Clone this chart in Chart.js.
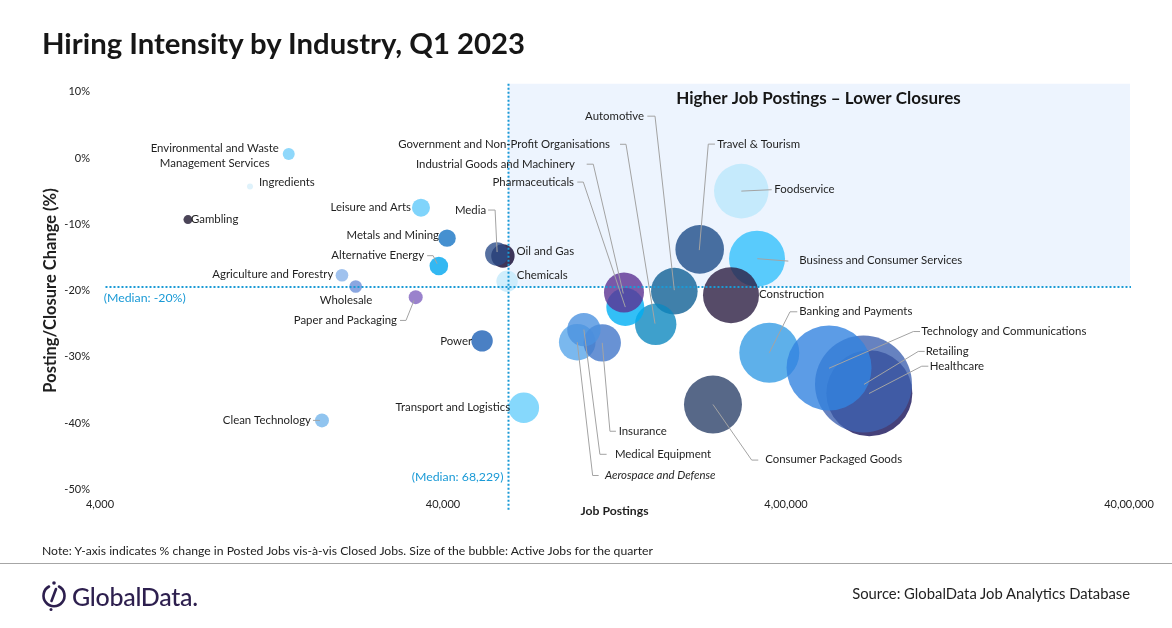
<!DOCTYPE html>
<html>
<head>
<meta charset="utf-8">
<script src="https://cdn.jsdelivr.net/npm/chart.js@4.4.0/dist/chart.umd.min.js"></script>
<style>
  body { margin: 0; background: #fff; font-family: Lato, sans-serif; color: #1f1f1f; }
  #page { position: relative; width: 1172px; height: 628px; overflow: hidden; }
  #chart { position: absolute; left: 0; top: 0; }
  .title { position: absolute; left: 42px; top: 25px; font-size: 29.3px; font-weight: bold; color: #161616; }
  .note { position: absolute; left: 42px; top: 543px; font-size: 12.2px; color: #222; }
  .rule { position: absolute; left: 0; top: 563px; width: 1172px; height: 1px; background: #a6a6a6; }
  .logo { position: absolute; left: 40px; top: 580px; height: 32px; display: flex; align-items: center; color: #2d1f4e; }
  .logo span { font-size: 25px; font-weight: 500; margin-left: 4px; letter-spacing: -0.3px; }
  .source { position: absolute; right: 42px; top: 584px; font-size: 14.8px; color: #222; }
</style>
</head>
<body>
<div id="page">
  <canvas id="chart" width="1172" height="628"></canvas>
  <div class="title">Hiring Intensity by Industry, Q1 2023</div>
  <div class="note">Note: Y-axis indicates % change in Posted Jobs vis-à-vis Closed Jobs. Size of the bubble: Active Jobs for the quarter</div>
  <div class="rule"></div>
  <div class="logo">
    <svg width="28" height="32" viewBox="0 0 28 32">
      <path d="M9 6.5 A10.5 10.5 0 1 0 19 6.5" fill="none" stroke="#2d1f4e" stroke-width="2.6" stroke-linecap="round"/>
      <line x1="16" y1="9" x2="11.5" y2="21" stroke="#2d1f4e" stroke-width="2.6" stroke-linecap="round"/>
      <circle cx="14" cy="3" r="1.8" fill="#2d1f4e"/>
      <circle cx="11" cy="29.5" r="1.5" fill="#2d1f4e"/>
    </svg>
    <span>GlobalData.</span>
  </div>
  <div class="source">Source: GlobalData Job Analytics Database</div>
</div>
<script>
// industries, in the order they are drawn
const industries = [
  "Aerospace and Defense", "Agriculture and Forestry", "Alternative Energy", "Automotive",
  "Banking and Payments", "Business and Consumer Services", "Chemicals", "Clean Technology",
  "Construction", "Consumer Packaged Goods", "Environmental and Waste Management Services",
  "Foodservice", "Gambling", "Government and Non-Profit Organisations", "Healthcare",
  "Pharmaceuticals", "Industrial Goods and Machinery", "Ingredients", "Insurance",
  "Leisure and Arts", "Oil and Gas", "Media", "Medical Equipment", "Metals and Mining",
  "Paper and Packaging", "Power", "Retailing", "Technology and Communications",
  "Transport and Logistics", "Travel & Tourism", "Wholesale"
];
const jobPostings = [
  98500, 20300, 38900, 189000,
  357600, 329300, 61500, 17750,
  276500, 245000, 14200,
  296300, 7220, 166800, 699900,
  136000, 134800, 10950, 116500,
  34500, 59800, 57400, 103000, 41100,
  33300, 52000, 672900, 534000,
  68800, 224100, 22260
];
const postingClosureChange = [
  -27.8, -17.7, -16.3, -20.1,
  -29.4, -15.2, -18.6, -39.6,
  -20.7, -37.2, 0.6,
  -5.0, -9.3, -25.1, -35.5,
  -22.5, -20.3, -4.3, -27.9,
  -7.5, -14.8, -14.5, -25.9, -12.1,
  -21.0, -27.6, -34.1, -31.7,
  -37.7, -13.8, -19.4
];
const activeJobs = [
  33500, 4000, 8650, 54300,
  90000, 78400, 11450, 4900,
  78400, 84100, 3600,
  74500, 2025, 42850, 184900,
  36100, 40000, 900, 35000,
  8100, 13700, 13700, 27900, 7600,
  4900, 11450, 235000, 180600,
  23400, 59000, 4000
];
const xTickValues = [4000, 40000, 400000, 4000000];
const xTickLabels = ["4,000", "40,000", "4,00,000", "40,00,000"];
const yTickValues = [10, 0, -10, -20, -30, -40, -50];
const medianPostings = 68229;   // value shown in the label
const medianLineX = 61900;      // where the source draws the dotted line
const medianChange = -19.4;

// look of each bubble, same order as industries
const colors = [
  "#7ab8ee", "#a0c2ee", "#24b8f2", "#4080aa",
  "#5eb0ea", "#5ccdfc", "#d0eefc", "#90c4ef",
  "#564b68", "#576888", "#8fd8fb",
  "#c8ecfc", "#4b4558", "#3ea0cc", "#45417a",
  "#28bff6", "#7c5aa8", "#dff2fb", "#6892d4",
  "#80d4fb", "#3f3658", "#5670a0", "#70a8e6", "#4590d0",
  "#9a82cc", "#4a80c4", "#6682c0", "#5c9ce6",
  "#86d8fc", "#4a70a0", "#8aa6e0"
];
const alpha = 0.8;
function seeThrough(hex) {
  const n = parseInt(hex.slice(1), 16);
  const c = [n >> 16, (n >> 8) & 255, n & 255].map(v =>
    Math.max(0, Math.min(255, Math.round((v - 255 * (1 - alpha)) / alpha))));
  return "rgba(" + c.join(",") + "," + alpha + ")";
}

// label placement, pixel offsets from the bubble centre
const labelLayout = {
  "Aerospace and Defense": { dx: 27.7, dy: 133.3, align: "left", italic: true, leader: [[0,0],[15.4,133.3],[21.4,133.3]] },
  "Agriculture and Forestry": { dx: -8.7, dy: -0.7, align: "right" },
  "Alternative Energy": { dx: -14.7, dy: -10.3, align: "right", leader: [[-11.7,-10.3],[-5.7,-10.3],[-1.7,-2.3]] },
  "Automotive": { dx: -30.3, dy: -175, align: "right", leader: [[-27,-175],[-19.3,-175],[0,-1]] },
  "Banking and Payments": { dx: 30, dy: -41, align: "left", leader: [[28,-41],[20.7,-41],[0,0]] },
  "Business and Consumer Services": { dx: 42.3, dy: 1.7, align: "left", leader: [[31.3,2.4],[0.3,0]] },
  "Chemicals": { dx: 9.7, dy: -6, align: "left" },
  "Clean Technology": { dx: -11, dy: 0, align: "right", leader: [[-9,0],[-2,0]] },
  "Construction": { dx: 28, dy: -1, align: "left" },
  "Consumer Packaged Goods": { dx: 52.3, dy: 55.3, align: "left", leader: [[0,0],[38.7,55.6],[45.3,55.6]] },
  "Environmental and Waste Management Services": { dx: -74, dy: -6, align: "center", lines: ["Environmental and Waste", "Management Services"] },
  "Foodservice": { dx: 33, dy: -1.7, align: "left", leader: [[30.4,-1.4],[0,0]] },
  "Gambling": { dx: 3, dy: 0, align: "left" },
  "Government and Non-Profit Organisations": { dx: -45.7, dy: -180, align: "right", leader: [[-35.7,-180],[-29.7,-180],[-0.7,-0.7]] },
  "Healthcare": { dx: 60.4, dy: -27, align: "left", leader: [[59,-27],[52.4,-27],[-0.3,0.3]] },
  "Pharmaceuticals": { dx: -51.3, dy: -125, align: "right", leader: [[-48,-125],[-42,-125],[0,0]] },
  "Industrial Goods and Machinery": { dx: -49, dy: -128.3, align: "right", leader: [[-37.3,-128.3],[-30.7,-128.3],[-0.7,1]] },
  "Ingredients": { dx: 9, dy: -4, align: "left" },
  "Insurance": { dx: 16.4, dy: 88.7, align: "left", leader: [[0,0],[7.7,88.4],[13.7,88.4]] },
  "Leisure and Arts": { dx: -10, dy: 0, align: "right" },
  "Media": { dx: -10.7, dy: -44, align: "right", leader: [[-8.7,-44],[-1.7,-44],[0.3,-2]] },
  "Medical Equipment": { dx: 31, dy: 124.7, align: "left", leader: [[0,0],[16,124.7],[22.7,124.7]] },
  "Metals and Mining": { dx: -8, dy: -3, align: "right" },
  "Oil and Gas": { dx: 13.7, dy: -4.7, align: "left" },
  "Paper and Packaging": { dx: -18.7, dy: 23.3, align: "right", leader: [[-15.7,23.3],[-9.7,23.3],[-1.7,3.3]] },
  "Power": { dx: -10, dy: 0, align: "right" },
  "Retailing": { dx: 62.2, dy: -32.5, align: "left", leader: [[61.2,-32.5],[54.8,-32.5],[0.5,0.5]] },
  "Technology and Communications": { dx: 92.3, dy: -36.5, align: "left", leader: [[91,-36.5],[84.3,-36.5],[0,0.2]] },
  "Transport and Logistics": { dx: -13.7, dy: 0, align: "right" },
  "Travel & Tourism": { dx: 17.6, dy: -105.3, align: "left", leader: [[15.3,-105.3],[8.6,-105.3],[-0.4,0.7]] },
  "Wholesale": { dx: -9.7, dy: 13.7, align: "center" }
};

const blue = "#1a9ad6";

const quadrantPlugin = {
  id: "quadrant",
  beforeDatasetsDraw(chart) {
    const { ctx, scales: { x, y } } = chart;
    const x0 = x.getPixelForValue(medianLineX);
    const x1 = x.getPixelForValue(4000000) + 1;
    const y0 = y.getPixelForValue(11.2);
    const y1 = y.getPixelForValue(medianChange);
    ctx.save();
    ctx.fillStyle = "#edf4fe";
    ctx.fillRect(x0, y0, x1 - x0, y1 - y0);
    ctx.restore();
  },
  afterDatasetsDraw(chart) {
    const { ctx, scales: { x, y } } = chart;
    ctx.save();
    // median lines
    ctx.strokeStyle = blue;
    ctx.lineWidth = 2;
    ctx.setLineDash([2, 2]);
    const mx = Math.round(x.getPixelForValue(medianLineX)) + 0.5;
    const my = Math.round(y.getPixelForValue(medianChange));
    ctx.beginPath();
    ctx.moveTo(mx, y.getPixelForValue(11.2));
    ctx.lineTo(mx, y.getPixelForValue(-53.2));
    ctx.moveTo(x.getPixelForValue(4150), my);
    ctx.lineTo(x.getPixelForValue(4000000) + 2, my);
    ctx.stroke();
    ctx.setLineDash([]);

    ctx.font = "12.3px Lato";
    ctx.fillStyle = blue;
    ctx.textBaseline = "middle";
    ctx.textAlign = "left";
    ctx.fillText("(Median: " + Math.round(medianChange / 10) * 10 + "%)", x.getPixelForValue(4100), my + 11);
    ctx.textAlign = "right";
    ctx.fillText("(Median: " + medianPostings.toLocaleString("en-US") + ")", mx - 5, y.getPixelForValue(-48.2));

    ctx.font = "bold 17px Lato";
    ctx.fillStyle = "#161616";
    ctx.textAlign = "center";
    ctx.fillText("Higher Job Postings \u2013 Lower Closures", (x.getPixelForValue(medianLineX) + x.getPixelForValue(4000000)) / 2, y.getPixelForValue(8.9));

    // leader lines and labels
    const meta = chart.getDatasetMeta(0);
    ctx.strokeStyle = "#a3a3a3";
    ctx.lineWidth = 1;
    industries.forEach((name, i) => {
      const p = meta.data[i];
      const lay = labelLayout[name];
      if (lay.leader) {
        ctx.beginPath();
        lay.leader.forEach(([dx, dy], k) => {
          if (k === 0) ctx.moveTo(p.x + dx, p.y + dy);
          else ctx.lineTo(p.x + dx, p.y + dy);
        });
        ctx.stroke();
      }
    });
    ctx.fillStyle = "#1f1f1f";
    industries.forEach((name, i) => {
      const p = meta.data[i];
      const lay = labelLayout[name];
      ctx.font = (lay.italic ? "italic " : "") + "11.4px Lato";
      ctx.textAlign = lay.align;
      const lines = lay.lines || [name];
      lines.forEach((t, k) => ctx.fillText(t, p.x + lay.dx, p.y + lay.dy + k * 15));
    });
    ctx.restore();
  }
};

Chart.defaults.font.family = "Lato, sans-serif";
Chart.defaults.color = "#222";

new Chart(document.getElementById("chart"), {
  type: "bubble",
  data: {
    datasets: [{
      label: "Industries",
      data: industries.map((n, i) => ({
        x: jobPostings[i],
        y: postingClosureChange[i],
        r: Math.sqrt(activeJobs[i]) / 10
      })),
      backgroundColor: colors.map(seeThrough),
      borderWidth: 0,
      hoverBorderWidth: 0,
      hoverRadius: 0
    }]
  },
  options: {
    responsive: false,
    animation: false,
    devicePixelRatio: 1,
    events: [],
    layout: { autoPadding: false, padding: { top: 91.7, right: 43, left: 0, bottom: 0 } },
    plugins: { legend: { display: false }, tooltip: { enabled: false } },
    scales: {
      x: {
        type: "logarithmic",
        min: 4000,
        max: 4000000,
        grid: { display: false, drawTicks: false },
        border: { display: false },
        afterBuildTicks: scale => { scale.ticks = xTickValues.map(v => ({ value: v })); },
        afterFit: scale => {
          scale.height = 628 - 489.3;
          scale.paddingLeft = 0;
          scale.paddingRight = 0;
        },
        ticks: {
          autoSkip: false,
          maxRotation: 0,
          padding: 9,
          font: { size: 11 },
          color: "#222",
          callback: v => xTickLabels[xTickValues.indexOf(v)]
        },
        title: { display: true, text: "Job Postings", font: { size: 12.2, weight: "bold" }, color: "#1f1f1f", padding: { bottom: 109.5 } }
      },
      y: {
        min: -50,
        max: 10,
        grid: { display: false, drawTicks: false },
        border: { display: false },
        afterBuildTicks: scale => { scale.ticks = yTickValues.map(v => ({ value: v })); },
        afterFit: scale => {
          scale.width = 100;
          scale.paddingTop = 0;
          scale.paddingBottom = 0;
        },
        ticks: {
          padding: 10,
          font: { size: 11 },
          color: "#222",
          callback: v => v + "%"
        },
        title: { display: true, text: "Posting/Closure Change (%)", font: { size: 16.5, weight: "bold" }, color: "#1f1f1f", padding: { top: 40.5 } }
      }
    }
  },
  plugins: [quadrantPlugin]
});
</script>
</body>
</html>
